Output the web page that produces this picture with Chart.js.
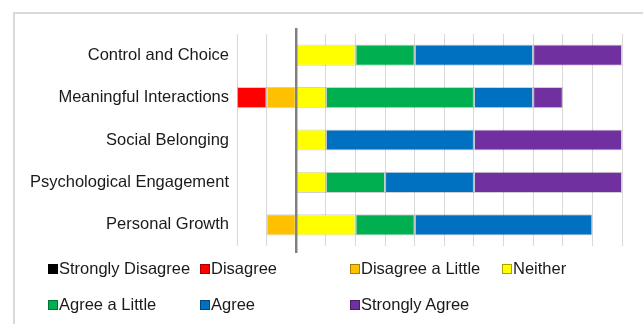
<!DOCTYPE html>
<html lang="en">
<head>
    <meta charset="UTF-8">
    <title>Likert Responses</title>
    <script src="https://cdn.jsdelivr.net/npm/chart.js"></script>
    <style>
        body {
            margin: 0;
            background: #ffffff;
            font-family: 'Liberation Sans', Arial, sans-serif;
        }
        .wrap {
            position: relative;
            width: 643px;
            height: 324px;
            overflow: hidden;
        }
        .frame {
            position: absolute;
            left: 13px;
            top: 12px;
            width: 700px;
            height: 400px;
            border: 2px solid #d9d9d9;
        }
        #chart {
            position: absolute;
            left: 0;
            top: 0;
        }
        .legend-item {
            position: absolute;
            font-size: 16.5px;
            color: #1a1a1a;
            line-height: 20px;
            white-space: nowrap;
        }
        .legend-item .box {
            position: absolute;
            left: 0;
            top: 6px;
            width: 8px;
            height: 8px;
            border: 0.5px solid rgba(0,0,0,0.35);
        }
        .legend-item span.txt {
            position: absolute;
            left: 11px;
            top: 0;
        }
    </style>
</head>
<body>
    <div class="wrap">
        <div class="frame"></div>
        <canvas id="chart" width="643" height="324"></canvas>
        <div id="legend"></div>
    </div>

    <script>
        // categories (top to bottom)
        const categories = ['Control and Choice', 'Meaningful Interactions', 'Social Belonging',
                            'Psychological Engagement', 'Personal Growth'];

        // response counts per category
        const stronglyDisagree = [0, 0, 0, 0, 0];
        const disagree         = [0, 1, 0, 0, 0];
        const disagreeLittle   = [0, 1, 0, 0, 1];
        const neither          = [2, 1, 1, 1, 2];
        const agreeLittle      = [2, 5, 0, 2, 2];
        const agree            = [4, 2, 5, 3, 6];
        const stronglyAgree    = [3, 1, 5, 5, 0];

        const legendLabels = ['Strongly Disagree', 'Disagree', 'Disagree a Little', 'Neither',
                              'Agree a Little', 'Agree', 'Strongly Agree'];
        const colors = ['#000000', '#ff0000', '#ffc000', '#ffff00', '#00b050', '#0070c0', '#7030a0'];

        const neg = arr => arr.map(v => -v);

        // negative side stacks outward from zero, so nearest-to-zero first
        const datasets = [
            { label: 'Disagree a Little', data: neg(disagreeLittle), backgroundColor: colors[2] },
            { label: 'Disagree', data: neg(disagree), backgroundColor: colors[1] },
            { label: 'Strongly Disagree', data: neg(stronglyDisagree), backgroundColor: colors[0] },
            { label: 'Neither', data: neither, backgroundColor: colors[3] },
            { label: 'Agree a Little', data: agreeLittle, backgroundColor: colors[4] },
            { label: 'Agree', data: agree, backgroundColor: colors[5] },
            { label: 'Strongly Agree', data: stronglyAgree, backgroundColor: colors[6] }
        ].map(d => Object.assign(d, {
            borderColor: 'rgba(0,0,0,0.18)',
            borderWidth: 1,
            borderSkipped: false,
            barPercentage: 0.5,
            categoryPercentage: 1.0
        }));

        // thick zero line that runs a little past the plot area
        const zeroLine = {
            id: 'zeroLine',
            afterDatasetsDraw(chart) {
                const x = chart.scales.x.getPixelForValue(0);
                const ctx = chart.ctx;
                ctx.save();
                ctx.strokeStyle = '#808080';
                ctx.lineWidth = 2.5;
                ctx.beginPath();
                ctx.moveTo(x, chart.chartArea.top - 6);
                ctx.lineTo(x, chart.chartArea.bottom + 7);
                ctx.stroke();
                ctx.restore();
            }
        };

        new Chart(document.getElementById('chart'), {
            type: 'bar',
            data: { labels: categories, datasets: datasets },
            options: {
                indexAxis: 'y',
                responsive: false,
                animation: false,
                layout: { padding: { left: 0, right: 21, top: 34, bottom: 78 } },
                plugins: {
                    legend: { display: false },
                    tooltip: { enabled: false }
                },
                scales: {
                    x: {
                        stacked: true,
                        min: -2,
                        max: 11,
                        ticks: { display: false, stepSize: 1 },
                        grid: { color: '#d9d9d9', lineWidth: 1, drawTicks: false },
                        border: { display: false }
                    },
                    y: {
                        stacked: true,
                        afterFit: s => { s.width = 237; },
                        ticks: {
                            padding: 8,
                            color: '#1a1a1a',
                            font: { family: "'Liberation Sans', Arial, sans-serif", size: 16.5 }
                        },
                        grid: { display: false, drawTicks: false },
                        border: { display: false }
                    }
                }
            },
            plugins: [zeroLine]
        });

        // legend laid out in a fixed grid like the original
        const legendPos = [
            [48, 258], [200, 258], [350, 258], [502, 258],
            [48, 294], [200, 294], [350, 294]
        ];
        const legend = document.getElementById('legend');
        legendLabels.forEach((name, i) => {
            const item = document.createElement('div');
            item.className = 'legend-item';
            item.style.left = legendPos[i][0] + 'px';
            item.style.top = legendPos[i][1] + 'px';
            item.innerHTML = '<div class="box" style="background:' + colors[i] + '"></div>' +
                             '<span class="txt">' + name + '</span>';
            legend.appendChild(item);
        });
    </script>
</body>
</html>
